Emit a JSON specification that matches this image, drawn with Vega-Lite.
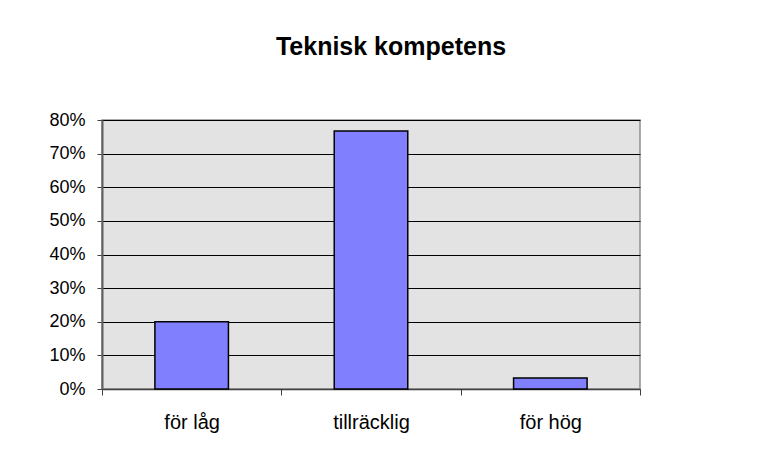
{
  "$schema": "https://vega.github.io/schema/vega-lite/v6.json",
  "autosize": "none",
  "width": 538,
  "height": 269,
  "padding": {"left": 102, "top": 120, "right": 131, "bottom": 81},
  "background": "white",
  "title": {
    "text": "Teknisk kompetens",
    "font": "Liberation Sans",
    "fontSize": 25,
    "fontWeight": "bold",
    "color": "black",
    "offset": 51,
    "dx": 20
  },
  "data": {
    "values": [
      {"kategori": "för låg", "andel": 0.2},
      {"kategori": "tillräcklig", "andel": 0.767},
      {"kategori": "för hög", "andel": 0.033}
    ]
  },
  "mark": {"type": "bar", "width": {"band": 0.41}, "fill": "#8080ff", "stroke": "black", "strokeWidth": 1.5},
  "encoding": {
    "x": {
      "field": "kategori",
      "type": "nominal",
      "sort": null,
      "scale": {"paddingInner": 0, "paddingOuter": 0},
      "axis": {
        "title": null,
        "labelAngle": 0,
        "labelFont": "Liberation Sans",
        "labelFontSize": 20,
        "labelColor": "black",
        "labelPadding": 17,
        "tickBand": "extent",
        "tickSize": 6,
        "tickColor": "#404040",
        "domainColor": "#404040",
        "domainWidth": 1.5,
        "grid": false
      }
    },
    "y": {
      "field": "andel",
      "type": "quantitative",
      "scale": {"domain": [0, 0.8], "nice": false},
      "axis": {
        "title": null,
        "format": ".0%",
        "values": [0, 0.1, 0.2, 0.3, 0.4, 0.5, 0.6, 0.7, 0.8],
        "labelFont": "Liberation Sans",
        "labelFontSize": 18,
        "labelColor": "black",
        "labelPadding": 12,
        "tickSize": 5,
        "tickColor": "#404040",
        "domainColor": "#606060",
        "domainWidth": 2,
        "grid": true,
        "gridColor": "black",
        "gridWidth": 1,
        "gridOpacity": 1
      }
    }
  },
  "config": {
    "view": {"fill": "#e3e3e3", "stroke": "#909090", "strokeWidth": 1.5}
  }
}
